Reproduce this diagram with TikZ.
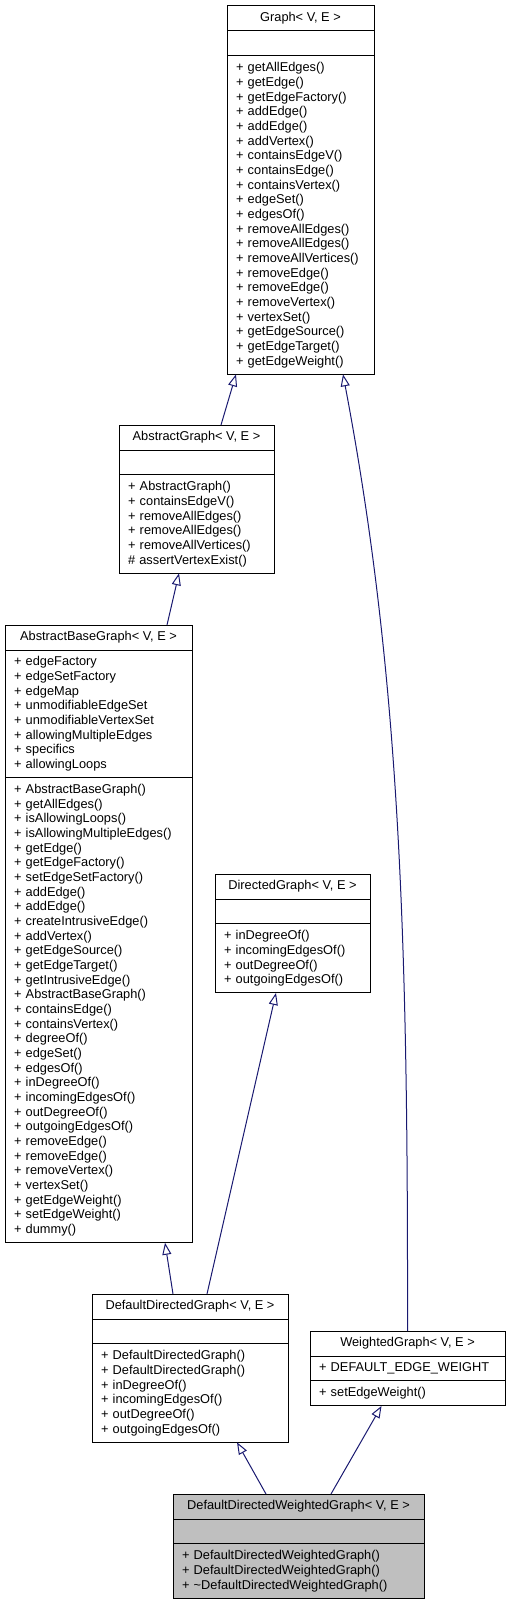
\documentclass[tikz,border=0pt]{standalone}
\usepackage{fontspec}
\setmainfont{Liberation Sans}
\usetikzlibrary{positioning, arrows.meta}

\definecolor{edgeblue}{HTML}{191970}
\definecolor{classgray}{HTML}{BFBFBF}
\newcommand{\umlfont}{\fontsize{12.8}{14.67}\selectfont}

\tikzset{
	box/.style={draw=black, fill=white, line width=1pt, outer sep=0pt, font=\umlfont},
	head/.style={box, minimum width=#1+18pt, minimum height=25pt, inner sep=0pt},
	body/.style 2 args={box, text width=#1, inner xsep=9pt, inner ysep=0pt, align=left, minimum height=#2*14.67pt+10.3pt},
	isa/.style={draw=edgeblue, line width=1pt, -{Triangle[open, length=12pt, width=9pt]}},
}

\begin{document}
\begin{tikzpicture}[x=1pt, y=-1pt]
	\useasboundingbox (0,0) rectangle (511,1605);

	\node[head=129pt, anchor=north west] (graph) at (227,6) {Graph< V, E >};
	\node[body={129pt}{1}, below=0pt of graph] (graph-attr) {};
	\node[body={129pt}{21}, below=0pt of graph-attr] (graph-ops) {+ getAllEdges()\\ + getEdge()\\ + getEdgeFactory()\\ + addEdge()\\ + addEdge()\\ + addVertex()\\ + containsEdgeV()\\ + containsEdge()\\ + containsVertex()\\ + edgeSet()\\ + edgesOf()\\ + removeAllEdges()\\ + removeAllEdges()\\ + removeAllVertices()\\ + removeEdge()\\ + removeEdge()\\ + removeVertex()\\ + vertexSet()\\ + getEdgeSource()\\ + getEdgeTarget()\\ + getEdgeWeight()};

	\node[head=137pt, anchor=north west] (abstract) at (119,425) {AbstractGraph< V, E >};
	\node[body={137pt}{1}, below=0pt of abstract] (abstract-attr) {};
	\node[body={137pt}{6}, below=0pt of abstract-attr] (abstract-ops) {+ AbstractGraph()\\ + containsEdgeV()\\ + removeAllEdges()\\ + removeAllEdges()\\ + removeAllVertices()\\ \# assertVertexExist()};

	\node[head=169pt, anchor=north west] (base) at (5,625) {AbstractBaseGraph< V, E >};
	\node[body={169pt}{8}, below=0pt of base] (base-attr) {+ edgeFactory\\ + edgeSetFactory\\ + edgeMap\\ + unmodifiableEdgeSet\\ + unmodifiableVertexSet\\ + allowingMultipleEdges\\ + specifics\\ + allowingLoops};
	\node[body={169pt}{31}, below=0pt of base-attr] (base-ops) {+ AbstractBaseGraph()\\ + getAllEdges()\\ + isAllowingLoops()\\ + isAllowingMultipleEdges()\\ + getEdge()\\ + getEdgeFactory()\\ + setEdgeSetFactory()\\ + addEdge()\\ + addEdge()\\ + createIntrusiveEdge()\\ + addVertex()\\ + getEdgeSource()\\ + getEdgeTarget()\\ + getIntrusiveEdge()\\ + AbstractBaseGraph()\\ + containsEdge()\\ + containsVertex()\\ + degreeOf()\\ + edgeSet()\\ + edgesOf()\\ + inDegreeOf()\\ + incomingEdgesOf()\\ + outDegreeOf()\\ + outgoingEdgesOf()\\ + removeEdge()\\ + removeEdge()\\ + removeVertex()\\ + vertexSet()\\ + getEdgeWeight()\\ + setEdgeWeight()\\ + dummy()};

	\node[head=137pt, anchor=north west] (directed) at (215,874) {DirectedGraph< V, E >};
	\node[body={137pt}{1}, below=0pt of directed] (directed-attr) {};
	\node[body={137pt}{4}, below=0pt of directed-attr] (directed-ops) {+ inDegreeOf()\\ + incomingEdgesOf()\\ + outDegreeOf()\\ + outgoingEdgesOf()};

	\node[head=178pt, anchor=north west] (ddg) at (92,1294) {DefaultDirectedGraph< V, E >};
	\node[body={178pt}{1}, below=0pt of ddg] (ddg-attr) {};
	\node[body={178pt}{6}, below=0pt of ddg-attr] (ddg-ops) {+ DefaultDirectedGraph()\\ + DefaultDirectedGraph()\\ + inDegreeOf()\\ + incomingEdgesOf()\\ + outDegreeOf()\\ + outgoingEdgesOf()};

	\node[head=177pt, anchor=north west] (weighted) at (310,1331) {WeightedGraph< V, E >};
	\node[body={177pt}{1}, below=0pt of weighted] (weighted-attr) {+ DEFAULT\_EDGE\_WEIGHT};
	\node[body={177pt}{1}, below=0pt of weighted-attr] (weighted-ops) {+ setEdgeWeight()};

	\node[head=233pt, fill=classgray, anchor=north west] (ddwg) at (173,1494) {DefaultDirectedWeightedGraph< V, E >};
	\node[body={233pt}{1}, fill=classgray, below=0pt of ddwg] (ddwg-attr) {};
	\node[body={233pt}{3}, fill=classgray, below=0pt of ddwg-attr] (ddwg-ops) {+ DefaultDirectedWeightedGraph()\\ + DefaultDirectedWeightedGraph()\\ + \textasciitilde DefaultDirectedWeightedGraph()};

	\draw[isa] ([xshift=24.5pt]abstract.north) -- ([xshift=-64.5pt]graph-ops.south);
	\draw[isa] ([xshift=68.5pt]base.north) -- ([xshift=-17.5pt]abstract-ops.south);
	\draw[isa] ([xshift=-17pt]ddg.north) -- ([xshift=66.5pt]base-ops.south);
	\draw[isa] ([xshift=17pt]ddg.north) -- ([xshift=-16.5pt]directed-ops.south);
	\draw[isa] (weighted.north) .. controls (408,950) and (401,680) .. ([xshift=42.5pt]graph-ops.south);
	\draw[isa] ([xshift=-32.5pt]ddwg.north) -- ([xshift=47pt]ddg-ops.south);
	\draw[isa] ([xshift=32.5pt]ddwg.north) -- ([xshift=-26pt]weighted-ops.south);
\end{tikzpicture}
\end{document}
